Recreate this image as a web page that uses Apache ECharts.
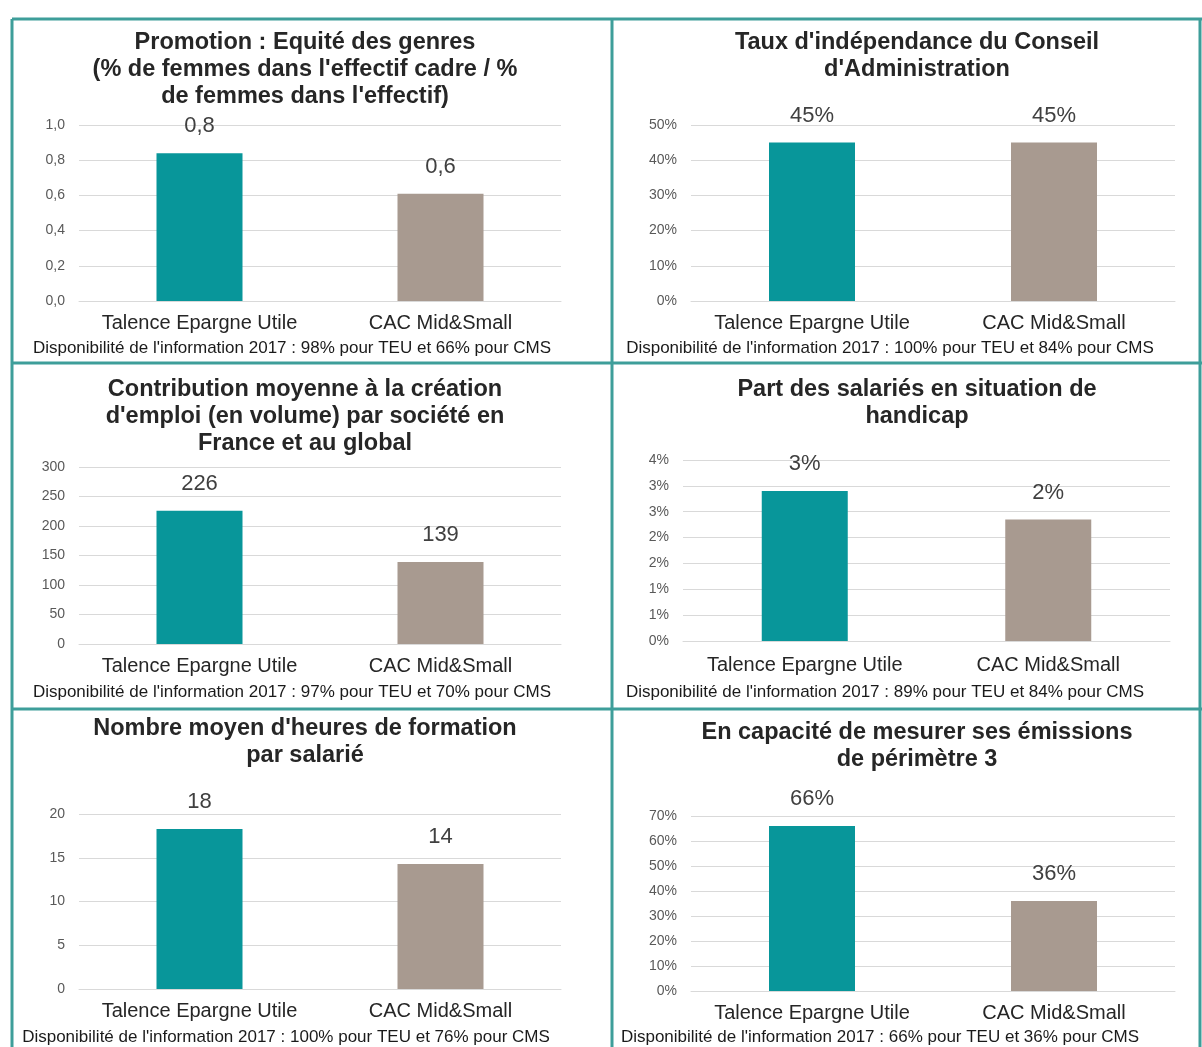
<!DOCTYPE html>
<html>
<head>
<meta charset="utf-8">
<script src="https://cdn.jsdelivr.net/npm/echarts@6/dist/echarts.min.js"></script>
<style>
html,body{margin:0;padding:0;background:#fff;}
#chart{width:1202px;height:1047px;}
</style>
</head>
<body>
<div id="chart"></div>
<script>
// ---- Data ----
const categories = ['Talence Epargne Utile', 'CAC Mid&Small'];
const promotionValues = [0.84, 0.61];
const independanceValues = [0.45, 0.45];
const emploiValues = [226, 139];
const handicapValues = [0.029, 0.0235];
const formationValues = [18.3, 14.3];
const emissionsValues = [0.66, 0.36];

const titleLines = [
  ['Promotion : Equité des genres', "(% de femmes dans l'effectif cadre / %", "de femmes dans l'effectif)"],
  ["Taux d'indépendance du Conseil", "d'Administration"],
  ['Contribution moyenne à la création', "d'emploi (en volume) par société en", 'France et au global'],
  ['Part des salariés en situation de', 'handicap'],
  ["Nombre moyen d'heures de formation", 'par salarié'],
  ['En capacité de mesurer ses émissions', 'de périmètre 3']
];
const footnotes = [
  "Disponibilité de l'information 2017 : 98% pour TEU et 66% pour CMS",
  "Disponibilité de l'information 2017 : 100% pour TEU et 84% pour CMS",
  "Disponibilité de l'information 2017 : 97% pour TEU et 70% pour CMS",
  "Disponibilité de l'information 2017 : 89% pour TEU et 84% pour CMS",
  "Disponibilité de l'information 2017 : 100% pour TEU et 76% pour CMS",
  "Disponibilité de l'information 2017 : 66% pour TEU et 36% pour CMS"
];
const axisMax = [1.0, 0.5, 300, 0.035, 20, 0.7];
const axisInterval = [0.2, 0.1, 50, 0.005, 5, 0.1];

// ---- Style / layout ----
const barColors = ['#08969a', '#a89a90'];
const FONT = 'Liberation Sans, Arial, sans-serif';
const dec1 = v => Number(v).toFixed(1).replace('.', ',');
const intf = v => String(Math.round(v));
const pct = v => Math.round(v * 100 + 1e-9) + '%';
const formatters = [dec1, pct, intf, pct, intf, pct];
const allValues = [promotionValues, independanceValues, emploiValues, handicapValues, formationValues, emissionsValues];

const grids = [
  {left: 79, top: 125, width: 482, height: 176},
  {left: 691, top: 125, width: 484, height: 176},
  {left: 79, top: 467, width: 482, height: 177},
  {left: 683, top: 460, width: 487, height: 181},
  {left: 79, top: 814, width: 482, height: 175},
  {left: 691, top: 816, width: 484, height: 175}
];
const catMargins = [12, 12, 12, 14, 12, 12];
const titleCenters = [305, 917, 305, 917, 305, 917];
const titleTops = [43, 43, 390, 390, 729, 733];
const footCenters = [292, 890, 292, 885, 286, 880];
const footY = [348, 348, 692, 692, 1037, 1037];

const xAxis = [], yAxis = [], series = [];
for (let i = 0; i < 6; i++) {
  xAxis.push({
    type: 'category', gridIndex: i, data: categories,
    axisLine: {lineStyle: {color: '#d9d9d9', width: 1}},
    axisTick: {show: false},
    axisLabel: {color: '#262626', fontSize: 20, fontFamily: FONT, margin: catMargins[i], interval: 0}
  });
  yAxis.push({
    type: 'value', gridIndex: i, min: 0, max: axisMax[i], interval: axisInterval[i],
    axisLine: {show: false}, axisTick: {show: false},
    splitLine: {lineStyle: {color: '#d9d9d9', width: 1}},
    axisLabel: {color: '#595959', fontSize: 14, fontFamily: FONT, margin: 14, formatter: formatters[i]}
  });
  const f = formatters[i];
  series.push({
    type: 'bar', xAxisIndex: i, yAxisIndex: i, barWidth: 86,
    data: allValues[i].map((v, j) => ({value: v, itemStyle: {color: barColors[j]}})),
    label: {show: true, position: 'top', distance: 16, color: '#404040', fontSize: 22, fontFamily: FONT,
      formatter: p => f(p.value)},
    silent: true, animation: false
  });
}

const graphic = [];
const BC = '#3e9e9a';
const lines = [
  [12, 19, 1202, 19],
  [12, 19, 12, 1047],
  [612, 19, 612, 1047],
  [1200, 19, 1200, 1047],
  [12, 363, 1202, 363],
  [12, 709, 1202, 709]
];
lines.forEach(l => graphic.push({type: 'line', shape: {x1: l[0], y1: l[1], x2: l[2], y2: l[3]}, style: {stroke: BC, lineWidth: 3}, silent: true}));
for (let i = 0; i < 6; i++) {
  titleLines[i].forEach((t, k) => graphic.push({
    type: 'text', x: titleCenters[i], y: titleTops[i] + k * 27, silent: true,
    style: {text: t, fill: '#262626', font: 'bold 23.5px ' + FONT, textAlign: 'center', textVerticalAlign: 'middle'}
  }));
  graphic.push({
    type: 'text', x: footCenters[i], y: footY[i], silent: true,
    style: {text: footnotes[i], fill: '#1a1a1a', font: '17px ' + FONT, textAlign: 'center', textVerticalAlign: 'middle'}
  });
}

const chart = echarts.init(document.getElementById('chart'));
chart.setOption({
  animation: false,
  backgroundColor: '#ffffff',
  grid: grids,
  xAxis: xAxis,
  yAxis: yAxis,
  series: series,
  graphic: graphic
});
</script>
</body>
</html>
